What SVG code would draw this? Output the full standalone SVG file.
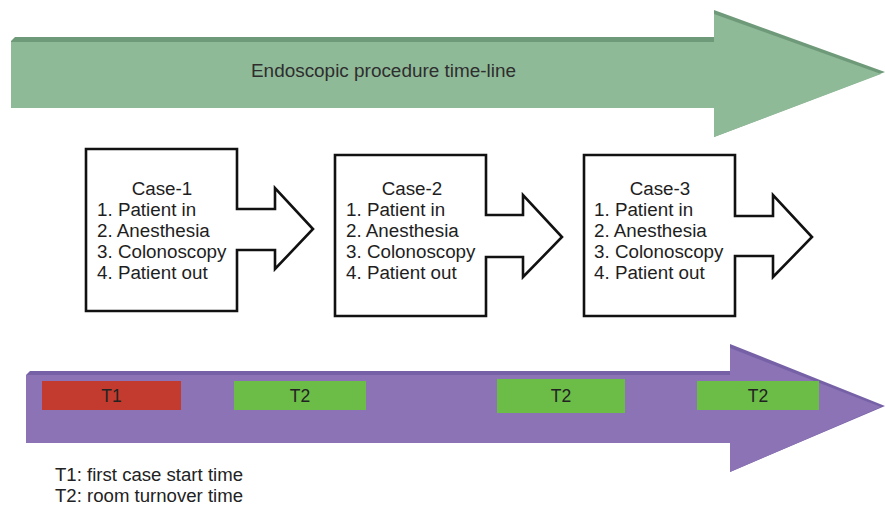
<svg xmlns="http://www.w3.org/2000/svg" width="885" height="506" viewBox="0 0 885 506">
<style>
.case{fill:#ffffff;stroke:#111111;stroke-width:2.6;stroke-linejoin:miter}
.ct{font-family:"Liberation Sans",Arial,sans-serif;font-size:18.8px;fill:#1e1e1e}
.tl{font-family:"Liberation Sans",Arial,sans-serif;font-size:17.5px;fill:#222222;text-anchor:middle}
.lg{font-family:"Liberation Sans",Arial,sans-serif;font-size:17.5px;fill:#222222}
</style>
<rect width="885" height="506" fill="#ffffff"/>
<g id="timeline-arrow">
<polygon points="11,41 15,37 714,37 714,10 885,72 714,137 714,108 11,108" fill="#6f9a7a"/>
<polygon points="11,42 714,42 714,14 881,74 714,137 714,108 11,108" fill="#8fba98"/>
<text x="383.5" y="77" font-family="Liberation Sans, Arial, sans-serif" font-size="17.5" fill="#2e2e2e" text-anchor="middle" textLength="265" lengthAdjust="spacingAndGlyphs">Endoscopic procedure time-line</text>
</g>
<g id="case-1">
<polygon class="case" points="86,149 237,149 237,209 275,209 275,188 313,229 275,269 275,250 237,250 237,311 86,311"/>
<text class="ct" x="162" y="195" text-anchor="middle">Case-1</text>
<text class="ct" x="97" y="216">1. Patient in</text>
<text class="ct" x="97" y="237">2. Anesthesia</text>
<text class="ct" x="97" y="258">3. Colonoscopy</text>
<text class="ct" x="97" y="279">4. Patient out</text>
</g>
<g id="case-2">
<polygon class="case" points="335,155 486,155 486,215 523,215 523,195 562,237 523,277 523,257 486,257 486,316 335,316"/>
<text class="ct" x="412" y="195" text-anchor="middle">Case-2</text>
<text class="ct" x="346" y="216">1. Patient in</text>
<text class="ct" x="346" y="237">2. Anesthesia</text>
<text class="ct" x="346" y="258">3. Colonoscopy</text>
<text class="ct" x="346" y="279">4. Patient out</text>
</g>
<g id="case-3">
<polygon class="case" points="584,155 735,155 735,216 773,216 773,195 812,237 773,277 773,256 735,256 735,316 584,316"/>
<text class="ct" x="660" y="195" text-anchor="middle">Case-3</text>
<text class="ct" x="594" y="216">1. Patient in</text>
<text class="ct" x="594" y="237">2. Anesthesia</text>
<text class="ct" x="594" y="258">3. Colonoscopy</text>
<text class="ct" x="594" y="279">4. Patient out</text>
</g>
<g id="time-arrow">
<polygon points="26,375 30,371 730,371 730,344 885,406 730,472 730,443 26,443" fill="#7661a6"/>
<polygon points="26,375 730,375 730,348 881,407 730,472 730,443 26,443" fill="#8b73b5"/>
</g>
<g id="t1">
<rect x="42" y="381" width="139" height="29" fill="#c23b2e"/>
<text class="tl" x="111.5" y="402">T1</text>
</g>
<g id="t2-a">
<rect x="234" y="381" width="132" height="29" fill="#6bbd48"/>
<text class="tl" x="300" y="402">T2</text>
</g>
<g id="t2-b">
<rect x="497" y="379" width="128" height="34" fill="#6bbd48"/>
<text class="tl" x="561" y="402">T2</text>
</g>
<g id="t2-c">
<rect x="697" y="381" width="122" height="29" fill="#6bbd48"/>
<text class="tl" x="758" y="402">T2</text>
</g>
<g id="connectors"></g>
<g id="legend">
<text class="lg" x="55" y="481" textLength="188" lengthAdjust="spacingAndGlyphs">T1: first case start time</text>
<text class="lg" x="55" y="502" textLength="188" lengthAdjust="spacingAndGlyphs">T2: room turnover time</text>
</g>
</svg>
